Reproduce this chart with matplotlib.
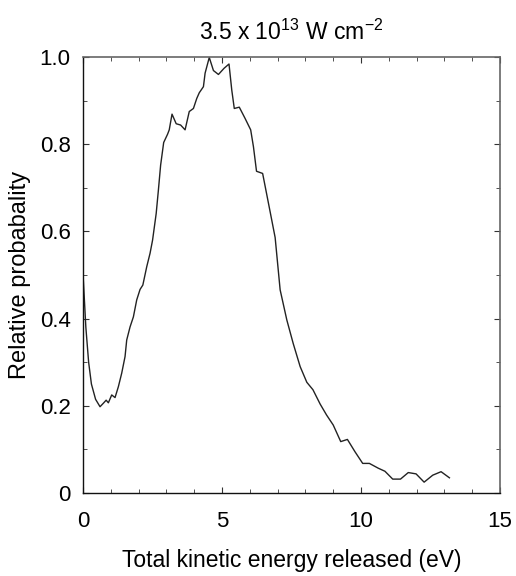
import matplotlib
matplotlib.use("Agg")
import matplotlib.pyplot as plt
from matplotlib.ticker import MultipleLocator

plt.rcParams['font.family'] = ['Liberation Sans', 'DejaVu Sans']

energy = [0.0, 0.1, 0.2, 0.3, 0.45, 0.61, 0.73, 0.83, 0.91, 1.03, 1.15, 1.27, 1.39,
          1.51, 1.57, 1.69, 1.81, 1.93, 2.05, 2.15, 2.29, 2.41, 2.50, 2.63, 2.71,
          2.79, 2.90, 3.04, 3.10, 3.20, 3.35, 3.51, 3.67, 3.82, 3.97, 4.09, 4.18,
          4.33, 4.39, 4.54, 4.69, 4.87, 5.07, 5.25, 5.35, 5.44, 5.62, 5.83, 6.03,
          6.13, 6.24, 6.46, 6.73, 6.91, 7.09, 7.33, 7.56, 7.81, 8.05, 8.27, 8.53,
          8.76, 9.00, 9.27, 9.51, 9.78, 10.06, 10.30, 10.62, 10.86, 11.14, 11.42,
          11.70, 11.98, 12.27, 12.58, 12.88, 13.18]
probability = [0.50, 0.38, 0.30, 0.25, 0.215, 0.198, 0.206, 0.213, 0.207, 0.225,
               0.219, 0.244, 0.275, 0.313, 0.351, 0.381, 0.404, 0.443, 0.467, 0.477,
               0.519, 0.550, 0.580, 0.641, 0.695, 0.752, 0.804, 0.823, 0.833, 0.869,
               0.847, 0.844, 0.833, 0.875, 0.882, 0.905, 0.918, 0.932, 0.963, 0.999,
               0.969, 0.960, 0.974, 0.984, 0.924, 0.882, 0.885, 0.859, 0.833, 0.794,
               0.738, 0.733, 0.645, 0.586, 0.466, 0.397, 0.343, 0.290, 0.254, 0.237,
               0.204, 0.179, 0.156, 0.118, 0.123, 0.095, 0.068, 0.068, 0.057, 0.050,
               0.032, 0.032, 0.047, 0.044, 0.025, 0.041, 0.049, 0.035]

x_ticks = [0, 5, 10, 15]
x_tick_labels = ["0", "5", "10", "15"]
y_ticks = [0, 0.2, 0.4, 0.6, 0.8, 1.0]
y_tick_labels = ["0", "0.2", "0.4", "0.6", "0.8", "1.0"]

fig = plt.figure(figsize=(5.16, 5.76), dpi=100)
ax = fig.add_axes([0.161, 0.144, 0.808, 0.757])
ax.plot(energy, probability, color='#222222', lw=1.0)
ax.set_xlim(0, 15)
ax.set_ylim(0, 1.0)
ax.set_xticks(x_ticks)
ax.set_xticklabels(x_tick_labels)
ax.set_yticks(y_ticks)
ax.set_yticklabels(y_tick_labels)
ax.xaxis.set_minor_locator(MultipleLocator(1))
ax.yaxis.set_minor_locator(MultipleLocator(0.1))
ax.tick_params(which='both', direction='in', top=True, right=True, labelsize=16, color='#333333')
ax.tick_params(which='major', length=4, width=0.8)
ax.tick_params(which='minor', length=3, width=0.6)
ax.tick_params(axis='x', which='major', pad=13)
ax.tick_params(axis='y', which='major', pad=9)
for s in ['left', 'bottom']:
    ax.spines[s].set_color('#111111')
    ax.spines[s].set_linewidth(1.0)
for s in ['top', 'right']:
    ax.spines[s].set_color('#666666')
    ax.spines[s].set_linewidth(1.2)
ax.set_title(r"3.5 x 10$^{\mathregular{13}}$ W cm$^{\mathregular{-2}}$", fontsize=16.5, pad=12)
ax.set_xlabel("Total kinetic energy released (eV)", fontsize=16.5, labelpad=12)
ax.set_ylabel("Relative probabality", fontsize=17, labelpad=6)
fig.savefig("out.png", dpi=100)
